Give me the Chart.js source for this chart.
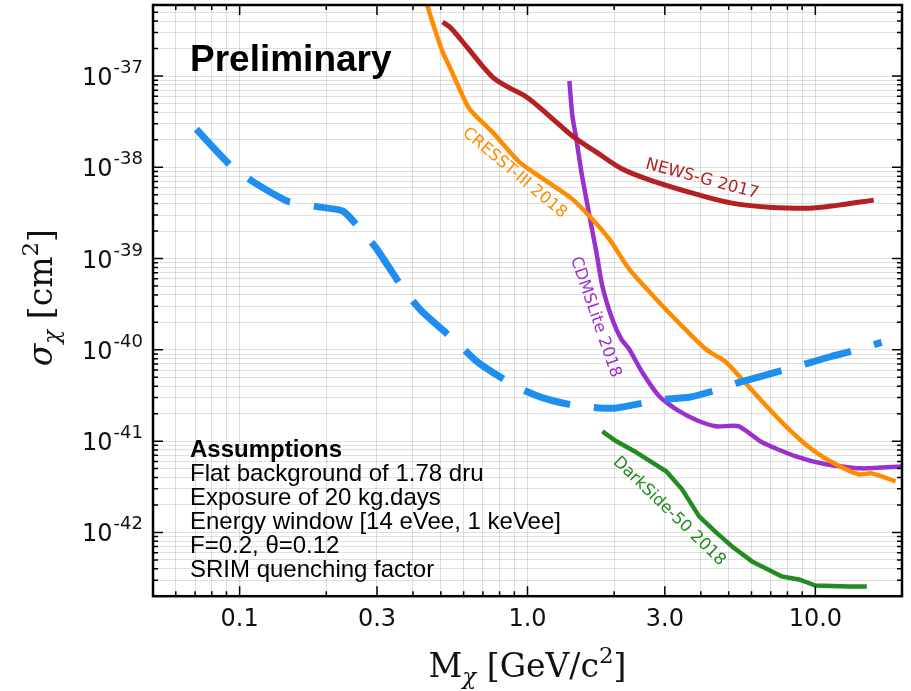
<!DOCTYPE html>
<html>
<head>
<meta charset="utf-8">
<title>Light dark matter limits</title>
<script src="https://cdn.jsdelivr.net/npm/chart.js@4.4.1/dist/chart.umd.min.js"></script>
<style>
  body { margin: 0; background: #fff; }
  #wrap { width: 911px; height: 691px; }
</style>
</head>
<body>
<div id="wrap"><canvas id="limits" width="911" height="691"></canvas></div>
<script>
// mass in GeV/c^2, cross section in cm^2

// projected sensitivity (dashed)
var projMass = [0.0707, 0.0927, 0.1105, 0.1461, 0.1582, 0.1901, 0.2285, 0.2658, 0.2997, 0.3748, 0.4292, 0.5675,
    0.6656, 0.7563, 0.9233, 1.118, 1.398, 1.667, 2.003, 2.387, 2.985, 3.643, 4.377, 5.43, 6.474, 7.90, 9.65,
    11.41, 14.15, 17.0];
var projSigma = [2.62e-38, 1.06e-38, 7.06e-39, 4.26e-39, 4.05e-39, 3.66e-39, 3.31e-39, 2.00e-39, 1.27e-39, 4.39e-40,
    2.65e-40, 1.21e-40, 7.50e-41, 5.68e-41, 3.89e-41, 3.02e-41, 2.53e-41, 2.35e-41, 2.29e-41, 2.53e-41, 2.87e-41,
    3.02e-41, 3.52e-41, 4.41e-41, 5.13e-41, 6.13e-41, 7.31e-41, 8.51e-41, 1.015e-40, 1.21e-40];

var newsgMass = [0.5073, 0.5366, 0.59, 0.645, 0.70, 0.756, 0.86, 0.992, 1.192, 1.432, 1.735, 2.135, 2.80, 3.853,
    5.135, 6.90, 9.49, 12.06, 15.95];
var newsgSigma = [3.91e-37, 3.45e-37, 2.45e-37, 1.74e-37, 1.27e-37, 9.75e-38, 7.5e-38, 5.89e-38, 3.64e-38, 2.20e-38,
    1.468e-38, 9.56e-39, 6.88e-39, 5.08e-39, 4.05e-39, 3.66e-39, 3.57e-39, 3.85e-39, 4.37e-39];

var cresstMass = [0.436, 0.4467, 0.476, 0.5073, 0.5366, 0.581, 0.629, 0.756, 0.938, 1.164, 1.432, 1.640, 1.924,
    2.257, 2.80, 3.445, 4.173, 4.895, 5.563, 6.526, 7.90, 9.72, 11.78, 14.15, 15.70, 19.01];
var cresstSigma = [7.93e-37, 6.16e-37, 3.28e-37, 1.83e-37, 1.255e-37, 7.2e-38, 4.35e-38, 2.43e-38, 1.14e-38,
    7.06e-39, 4.48e-39, 2.92e-39, 1.63e-39, 7.65e-40, 3.59e-40, 1.82e-40, 1.015e-40, 7.31e-41, 4.76e-41, 2.73e-41,
    1.453e-41, 8.13e-42, 5.57e-42, 4.33e-42, 4.43e-42, 3.62e-42];

var cdmsMass = [1.398, 1.432, 1.478, 1.539, 1.601, 1.667, 1.735, 1.820, 1.971, 2.118, 2.257, 2.503, 2.868, 3.285,
    3.947, 4.52, 5.43, 6.526, 8.56, 10.88, 14.50, 19.94];
var cdmsSigma = [8.81e-38, 3.64e-38, 2.04e-38, 8.86e-39, 4.48e-39, 2.27e-39, 1.175e-39, 4.98e-40, 2.17e-40,
    1.31e-40, 1.015e-40, 5.68e-41, 3.10e-41, 2.23e-41, 1.65e-41, 1.453e-41, 1.453e-41, 9.70e-42, 6.81e-42,
    5.57e-42, 5.03e-42, 5.27e-42];

var darksideMass = [1.820, 2.035, 2.387, 3.033, 3.445, 3.947, 4.52, 5.135, 6.026, 7.655, 8.767, 10.0, 13.07, 15.09];
var darksideSigma = [1.28e-41, 9.95e-42, 7.54e-42, 4.67e-42, 2.96e-42, 1.50e-42, 1.0e-42, 7.02e-43, 4.81e-43,
    3.29e-43, 3.05e-43, 2.62e-43, 2.56e-43, 2.56e-43];

// axis ranges and labelled ticks
var massRange = [0.05, 20];
var sigmaRange = [2e-43, 6e-37];
var xTickValues = [0.1, 0.3, 1, 3, 10];
var xTickLabels = ["0.1", "0.3", "1.0", "3.0", "10.0"];
var yTickExps = [-42, -41, -40, -39, -38, -37];

var assumptions = [
    "Flat background of 1.78 dru",
    "Exposure of 20 kg.days",
    "Energy window [14 eVee, 1 keVee]",
    "F=0.2, \u03b8=0.12",
    "SRIM quenching factor"
];

// curve names, placed along each curve (mass, sigma, angle in degrees)
var curveNotes = [
    { text: "NEWS-G 2017", color: "#b22222", at: [4.04, 7.42e-39], angle: 15 },
    { text: "CRESST-III 2018", color: "#ff8c00", at: [0.901, 8.64e-39], angle: 40 },
    { text: "CDMSLite 2018", color: "#9932cc", at: [1.721, 2.28e-40], angle: 71 },
    { text: "DarkSide-50 2018", color: "#228b22", at: [3.106, 1.70e-42], angle: 44 }
];

function toPoints(mass, sigma) {
    var pts = [];
    for (var i = 0; i < mass.length; i++) {
        pts.push({ x: mass[i], y: sigma[i] });
    }
    return pts;
}

// every 1..9 x 10^n inside the range
function logTicks(min, max) {
    var out = [];
    var e0 = Math.floor(Math.log10(min));
    var e1 = Math.ceil(Math.log10(max));
    for (var e = e0; e <= e1; e++) {
        for (var m = 1; m <= 9; m++) {
            var v = m * Math.pow(10, e);
            if (v >= min * 0.999999 && v <= max * 1.000001) {
                out.push({ value: v });
            }
        }
    }
    return out;
}

function matchIndex(list, v) {
    for (var i = 0; i < list.length; i++) {
        if (Math.abs(v / list[i] - 1) < 1e-6) return i;
    }
    return -1;
}

function isDecade(v) {
    var l = Math.log10(v);
    return Math.abs(l - Math.round(l)) < 1e-6;
}

// text made of runs with different fonts / offsets, centred on x
function drawRuns(ctx, runs, x, y) {
    var total = 0;
    runs.forEach(function (r) {
        ctx.font = r.font;
        r.w = ctx.measureText(r.text).width;
        total += r.w;
    });
    var cx = x - total / 2;
    ctx.textAlign = "left";
    ctx.textBaseline = "alphabetic";
    runs.forEach(function (r) {
        ctx.font = r.font;
        ctx.fillText(r.text, cx, y + r.dy);
        cx += r.w;
    });
}

var serif = "'DejaVu Serif', 'Liberation Serif', serif";
var sans = "'Liberation Sans', Arial, sans-serif";

var decorations = {
    id: "decorations",
    afterDraw: function (chart) {
        var ctx = chart.ctx;
        var a = chart.chartArea;
        var xs = chart.scales.x;
        var ys = chart.scales.y;
        ctx.save();

        // inward tick marks on all four sides
        ctx.strokeStyle = "#000";
        ctx.lineWidth = 1.5;
        ctx.beginPath();
        xs.ticks.forEach(function (t) {
            var px = xs.getPixelForValue(t.value);
            if (px <= a.left + 1 || px >= a.right - 1) return;
            var len = matchIndex(xTickValues, t.value) >= 0 ? 10 : 5;
            ctx.moveTo(px, a.bottom); ctx.lineTo(px, a.bottom - len);
            ctx.moveTo(px, a.top); ctx.lineTo(px, a.top + len);
        });
        ys.ticks.forEach(function (t) {
            var py = ys.getPixelForValue(t.value);
            if (py <= a.top + 1 || py >= a.bottom - 1) return;
            var len = isDecade(t.value) ? 10 : 5;
            ctx.moveTo(a.left, py); ctx.lineTo(a.left + len, py);
            ctx.moveTo(a.right, py); ctx.lineTo(a.right - len, py);
        });
        ctx.stroke();

        // frame
        ctx.lineWidth = 2.5;
        ctx.strokeRect(a.left, a.top, a.right - a.left, a.bottom - a.top);

        // y tick labels as 10^n
        ctx.fillStyle = "#111";
        ctx.textAlign = "right";
        ctx.textBaseline = "alphabetic";
        yTickExps.forEach(function (e) {
            var py = ys.getPixelForValue(Math.pow(10, e));
            var sup = String(e);
            ctx.font = "18px 'DejaVu Sans'";
            var w = ctx.measureText(sup).width;
            ctx.fillText(sup, a.left - 10, py - 3);
            ctx.font = "24px 'DejaVu Sans'";
            ctx.fillText("10", a.left - 11 - w, py + 9);
        });

        // axis titles
        ctx.fillStyle = "#111";
        drawRuns(ctx, [
            { text: "M", font: "33px " + serif, dy: 0 },
            { text: "\u03c7", font: "italic 23px " + serif, dy: 7 },
            { text: " [GeV/c", font: "33px " + serif, dy: 0 },
            { text: "2", font: "23px " + serif, dy: -14 },
            { text: "]", font: "33px " + serif, dy: 0 }
        ], (a.left + a.right) / 2, 677);

        ctx.save();
        ctx.translate(52, (a.top + a.bottom) / 2 - 3);
        ctx.rotate(-Math.PI / 2);
        drawRuns(ctx, [
            { text: "\u03c3", font: "italic 33px " + serif, dy: 0 },
            { text: "\u03c7", font: "italic 23px " + serif, dy: 7 },
            { text: " [cm", font: "33px " + serif, dy: 0 },
            { text: "2", font: "23px " + serif, dy: -14 },
            { text: "]", font: "33px " + serif, dy: 0 }
        ], 0, 0);
        ctx.restore();

        // curve names
        ctx.font = "16.5px 'DejaVu Sans'";
        ctx.textAlign = "center";
        ctx.textBaseline = "middle";
        curveNotes.forEach(function (n) {
            ctx.save();
            ctx.translate(xs.getPixelForValue(n.at[0]), ys.getPixelForValue(n.at[1]));
            ctx.rotate(n.angle * Math.PI / 180);
            ctx.fillStyle = n.color;
            ctx.fillText(n.text, 0, 0);
            ctx.restore();
        });

        // header and assumptions box
        ctx.fillStyle = "#000";
        ctx.textAlign = "left";
        ctx.textBaseline = "alphabetic";
        ctx.font = "bold 37px " + sans;
        ctx.fillText("Preliminary", a.left + 37, 71);

        ctx.font = "bold 24px " + sans;
        ctx.fillText("Assumptions", a.left + 37, 457);
        ctx.font = "24px " + sans;
        assumptions.forEach(function (line, i) {
            ctx.fillText(line, a.left + 37, 481 + i * 24);
        });

        ctx.restore();
    }
};

var gridColor = "rgba(0, 0, 0, 0.12)";

new Chart(document.getElementById("limits"), {
    type: "line",
    data: {
        datasets: [
            {
                label: "Projected sensitivity",
                data: toPoints(projMass, projSigma),
                borderColor: "#1e8ff0",
                borderWidth: 7,
                borderDash: [48, 24],
                tension: 0.2
            },
            {
                label: "NEWS-G 2017",
                data: toPoints(newsgMass, newsgSigma),
                borderColor: "#b22222",
                borderWidth: 5,
                cubicInterpolationMode: "monotone"
            },
            {
                label: "CRESST-III 2018",
                data: toPoints(cresstMass, cresstSigma),
                borderColor: "#ff8c00",
                borderWidth: 4.5,
                tension: 0.25
            },
            {
                label: "CDMSLite 2018",
                data: toPoints(cdmsMass, cdmsSigma),
                borderColor: "#9932cc",
                borderWidth: 4.5,
                tension: 0.2
            },
            {
                label: "DarkSide-50 2018",
                data: toPoints(darksideMass, darksideSigma),
                borderColor: "#228b22",
                borderWidth: 4.5,
                tension: 0
            }
        ]
    },
    options: {
        responsive: false,
        animation: false,
        devicePixelRatio: 1,
        parsing: false,
        clip: 0,
        layout: { padding: { left: 153, right: 7, top: 5, bottom: 48 } },
        elements: {
            point: { radius: 0 },
            line: { fill: false, borderCapStyle: "butt", borderJoinStyle: "round" }
        },
        plugins: {
            legend: { display: false },
            tooltip: { enabled: false }
        },
        scales: {
            x: {
                type: "logarithmic",
                min: massRange[0],
                max: massRange[1],
                afterBuildTicks: function (axis) {
                    axis.ticks = logTicks(massRange[0], massRange[1]);
                },
                grid: { color: gridColor, lineWidth: 1, drawTicks: false },
                border: { display: false },
                ticks: {
                    autoSkip: false,
                    maxRotation: 0,
                    padding: 9,
                    color: "#111",
                    font: { family: "'DejaVu Sans'", size: 24 },
                    callback: function (value) {
                        var i = matchIndex(xTickValues, value);
                        return i >= 0 ? xTickLabels[i] : "";
                    }
                }
            },
            y: {
                type: "logarithmic",
                min: sigmaRange[0],
                max: sigmaRange[1],
                afterBuildTicks: function (axis) {
                    axis.ticks = logTicks(sigmaRange[0], sigmaRange[1]);
                },
                grid: { color: gridColor, lineWidth: 1, drawTicks: false },
                border: { display: false },
                ticks: { display: false }
            }
        }
    },
    plugins: [decorations]
});
</script>
</body>
</html>
